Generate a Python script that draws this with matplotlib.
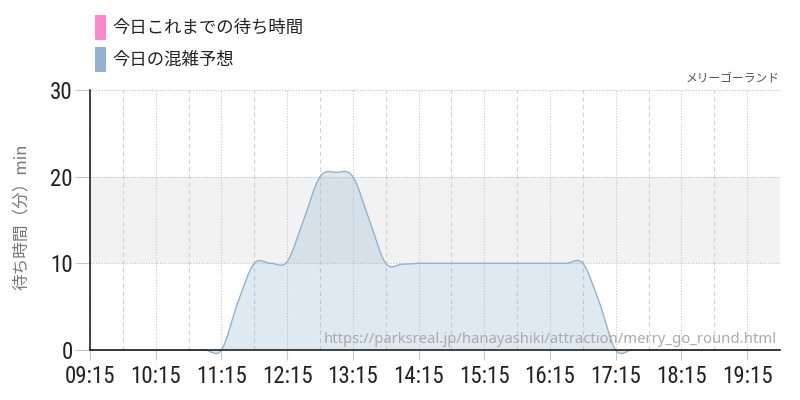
import matplotlib
matplotlib.use('Agg')
import matplotlib.pyplot as plt
from matplotlib.path import Path
from matplotlib.patches import PathPatch, Rectangle

# 15分ごとの混雑予想 (09:15 - 19:45)
times = ['09:15', '09:30', '09:45', '10:00', '10:15', '10:30', '10:45', '11:00',
         '11:15', '11:30', '11:45', '12:00', '12:15', '12:30', '12:45', '13:00',
         '13:15', '13:30', '13:45', '14:00', '14:15', '14:30', '14:45', '15:00',
         '15:15', '15:30', '15:45', '16:00', '16:15', '16:30', '16:45', '17:00',
         '17:15', '17:30', '17:45', '18:00', '18:15', '18:30', '18:45', '19:00',
         '19:15', '19:30', '19:45']
forecast = [0, 0, 0, 0, 0, 0, 0, 0,
            0, 5.5, 10, 10, 10.2, 15, 20, 20.5,
            20, 15, 10, 9.9, 10, 10, 10, 10,
            10, 10, 10, 10, 10, 10, 10, 5.5,
            0, 0, 0, 0, 0, 0, 0, 0,
            0, 0, 0]
tick_labels = ['09:15', '10:15', '11:15', '12:15', '13:15', '14:15',
               '15:15', '16:15', '17:15', '18:15', '19:15']
y_ticks = [0, 10, 20, 30]

legend_labels = ['今日これまでの待ち時間', '今日の混雑予想']
legend_colors = ['#ff88cc', '#8fb3d0']
title = 'メリーゴーランド'
ylabel = '待ち時間（分）min'
url = 'https://parksreal.jp/hanayashiki/attraction/merry_go_round.html'

jp = ['Noto Sans CJK JP', 'DejaVu Sans']
num_font = ['Roboto Condensed', 'DejaVu Sans']


def to_hours(t):
    h, m = t.split(':')
    return int(h) + int(m) / 60


xs = [to_hours(t) for t in times]
pts = list(zip(xs, forecast))


def smooth_path(pts):
    # catmull-rom as cubic bezier
    verts = [pts[0]]
    codes = [Path.MOVETO]
    n = len(pts)
    for i in range(n - 1):
        p0 = pts[i - 1] if i > 0 else pts[i]
        p1 = pts[i]
        p2 = pts[i + 1]
        p3 = pts[i + 2] if i + 2 < n else pts[i + 1]
        c1 = (p1[0] + (p2[0] - p0[0]) / 6, p1[1] + (p2[1] - p0[1]) / 6)
        c2 = (p2[0] - (p3[0] - p1[0]) / 6, p2[1] - (p3[1] - p1[1]) / 6)
        verts += [c1, c2, p2]
        codes += [Path.CURVE4] * 3
    return verts, codes


fig = plt.figure(figsize=(8, 4), dpi=100)
ax = fig.add_axes([90 / 800, 50 / 400, 690 / 800, 260 / 400])

ax.set_xlim(xs[0], xs[-1])
ax.set_ylim(0, 30)

# band 10-20
ax.axhspan(10, 20, color='#f2f2f2', zorder=0, lw=0)

verts, codes = smooth_path(pts)
fill_verts = verts + [(xs[-1], 0), (xs[0], 0), verts[0]]
fill_codes = codes + [Path.LINETO, Path.LINETO, Path.CLOSEPOLY]
ax.add_patch(PathPatch(Path(fill_verts, fill_codes), facecolor='#8fb3d0',
                       alpha=0.28, lw=0, zorder=2, clip_on=False))
ax.add_patch(PathPatch(Path(verts, codes), facecolor='none',
                       edgecolor='#8fb3d0', lw=1, zorder=3, clip_on=False))

# grid
major_x = [to_hours(t) for t in tick_labels]
minor_x = [x + 0.5 for x in major_x if x + 0.5 < xs[-1]]
for x in major_x:
    ax.axvline(x, color='#c8c8c8', lw=0.8, ls=(0, (1, 1.5)), zorder=1)
for x in minor_x:
    ax.axvline(x, color='#d0d0d0', lw=0.8, ls=(0, (4, 3)), zorder=1)
for y in y_ticks[1:]:
    ax.axhline(y, color='#c0c0c0', lw=0.8, ls=(0, (1, 1.5)), zorder=1)

ax.set_xticks(major_x)
ax.set_xticklabels(tick_labels, family=num_font, fontsize=16.5, color='#222222')
ax.set_yticks(y_ticks)
ax.set_yticklabels([str(v) for v in y_ticks], family=num_font, fontsize=16.5,
                   color='#222222')
ax.tick_params(axis='x', length=7.5, color='#c8c8c8', pad=3)
ax.tick_params(axis='y', length=10.8, color='#c8c8c8', pad=1.5)

for s in ['top', 'right']:
    ax.spines[s].set_visible(False)
for s in ['left', 'bottom']:
    ax.spines[s].set_color('#111111')
    ax.spines[s].set_linewidth(1.1)
    ax.spines[s].set_zorder(4)

fig.text(21 / 800, 1 - 217 / 400, ylabel, rotation=90, ha='center', va='center',
         family=jp, fontsize=12, color='#777777')

ax.text(0.995, 0.012, url, transform=ax.transAxes, ha='right', va='bottom',
        family=['Noto Sans', 'DejaVu Sans'], fontsize=10.7, color='#aaaaaa', zorder=5)
fig.text(780 / 800, 1 - 78 / 400, title, ha='right', va='center', family=jp,
         fontsize=8.5, color='#555555')

# legend
for i, (lab, col) in enumerate(zip(legend_labels, legend_colors)):
    top = 15 + i * 32
    fig.add_artist(Rectangle((95 / 800, 1 - (top + 25) / 400), 11 / 800, 25 / 400,
                             transform=fig.transFigure, facecolor=col, lw=0))
    fig.text(112 / 800, 1 - (top + 13) / 400, lab, ha='left', va='center',
             family=jp, fontsize=12.5, color='#222222')

fig.savefig('out.png', dpi=100)
